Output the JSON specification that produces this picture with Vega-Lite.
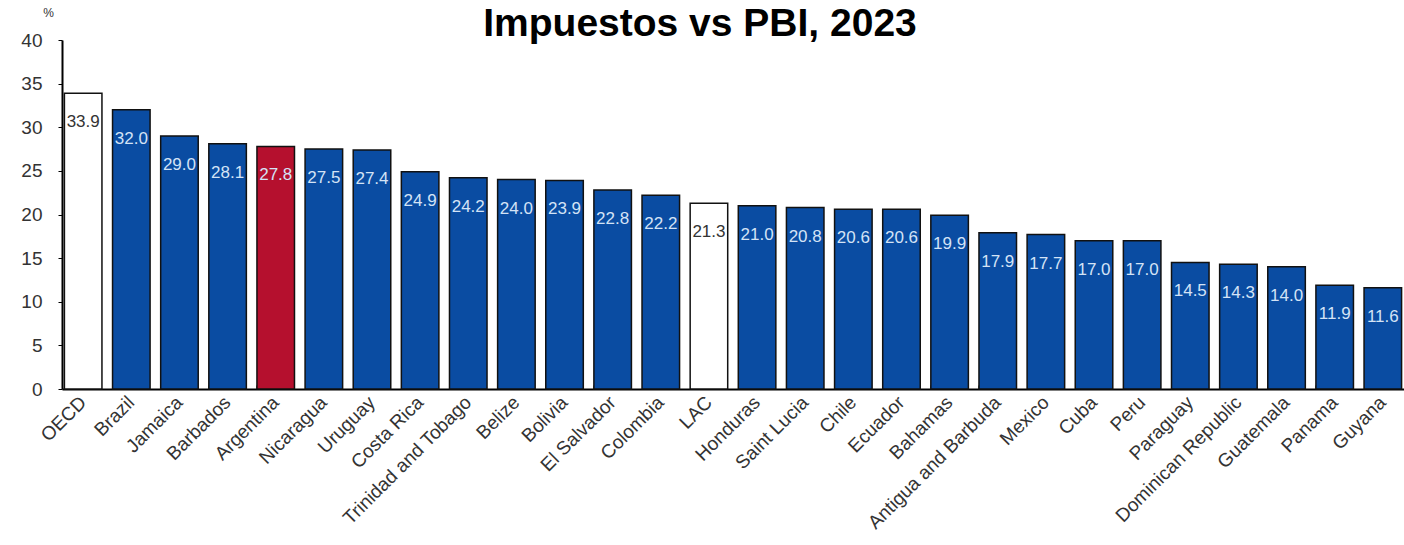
{
  "$schema": "https://vega.github.io/schema/vega-lite/v6.json",
  "width": 1342,
  "height": 349,
  "autosize": {"type": "none"},
  "padding": {"left": 62, "top": 40, "right": 0, "bottom": 156},
  "background": "white",
  "view": {"stroke": null},
  "title": {"text": "Impuestos vs PBI, 2023", "font": "Liberation Sans", "fontSize": 39, "fontWeight": "bold", "color": "#000", "anchor": "middle", "dx": -33, "dy": 42},
  "data": {"values": [
    {"country": "OECD", "value": 33.9, "group": "ref"},
    {"country": "Brazil", "value": 32.0, "group": "other"},
    {"country": "Jamaica", "value": 29.0, "group": "other"},
    {"country": "Barbados", "value": 28.1, "group": "other"},
    {"country": "Argentina", "value": 27.8, "group": "arg"},
    {"country": "Nicaragua", "value": 27.5, "group": "other"},
    {"country": "Uruguay", "value": 27.4, "group": "other"},
    {"country": "Costa Rica", "value": 24.9, "group": "other"},
    {"country": "Trinidad and Tobago", "value": 24.2, "group": "other"},
    {"country": "Belize", "value": 24.0, "group": "other"},
    {"country": "Bolivia", "value": 23.9, "group": "other"},
    {"country": "El Salvador", "value": 22.8, "group": "other"},
    {"country": "Colombia", "value": 22.2, "group": "other"},
    {"country": "LAC", "value": 21.3, "group": "ref"},
    {"country": "Honduras", "value": 21.0, "group": "other"},
    {"country": "Saint Lucia", "value": 20.8, "group": "other"},
    {"country": "Chile", "value": 20.6, "group": "other"},
    {"country": "Ecuador", "value": 20.6, "group": "other"},
    {"country": "Bahamas", "value": 19.9, "group": "other"},
    {"country": "Antigua and Barbuda", "value": 17.9, "group": "other"},
    {"country": "Mexico", "value": 17.7, "group": "other"},
    {"country": "Cuba", "value": 17.0, "group": "other"},
    {"country": "Peru", "value": 17.0, "group": "other"},
    {"country": "Paraguay", "value": 14.5, "group": "other"},
    {"country": "Dominican Republic", "value": 14.3, "group": "other"},
    {"country": "Guatemala", "value": 14.0, "group": "other"},
    {"country": "Panama", "value": 11.9, "group": "other"},
    {"country": "Guyana", "value": 11.6, "group": "other"}
  ]},
  "encoding": {
    "x": {"field": "country", "type": "nominal", "sort": null,
      "scale": {"paddingInner": 0.22, "paddingOuter": 0.05},
      "axis": {"title": null, "labelAngle": -45, "labelAlign": "right", "labelBaseline": "middle", "labelFont": "Liberation Sans", "labelFontSize": 19, "labelColor": "#333", "labelPadding": 14, "labelLimit": 0, "domainColor": "#000", "domainWidth": 2, "ticks": true, "bandPosition": 0, "tickSize": -4, "tickColor": "#776", "labelBound": false, "labelOverlap": false}},
    "y": {"field": "value", "type": "quantitative",
      "scale": {"domain": [0, 40], "nice": false},
      "axis": {"title": "%", "titleAngle": 0, "titleX": -14, "titleY": -21, "titleFont": "Liberation Sans", "titleFontSize": 12, "titleFontWeight": "normal", "titleColor": "#333", "values": [0, 5, 10, 15, 20, 25, 30, 35, 40], "grid": false, "labelFont": "Liberation Sans", "labelFontSize": 19, "labelColor": "#333", "labelPadding": 16, "domainColor": "#000", "domainWidth": 2, "tickColor": "#000", "tickSize": 4}}
  },
  "layer": [
    {"mark": {"type": "bar", "stroke": "#111", "strokeWidth": 1.5},
      "encoding": {"color": {"field": "group", "type": "nominal", "scale": {"domain": ["ref", "arg", "other"], "range": ["#ffffff", "#b5102e", "#0a4ca2"]}, "legend": null}}},
    {"mark": {"type": "text", "baseline": "middle", "dy": 29, "font": "Liberation Sans", "fontSize": 17},
      "encoding": {"text": {"field": "value", "type": "quantitative", "format": ".1f"},
        "color": {"condition": {"test": "datum.group === 'ref'", "value": "#333"}, "value": "#d4e3f6"}}}
  ]
}
